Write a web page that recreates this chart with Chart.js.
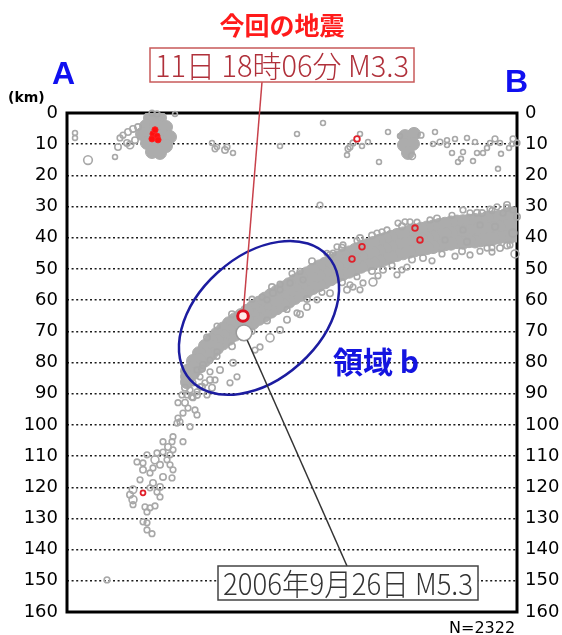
<!DOCTYPE html>
<html>
<head>
<meta charset="utf-8">
<script src="https://cdn.jsdelivr.net/npm/chart.js@4.4.0/dist/chart.umd.min.js"></script>
<style>
  html, body { margin: 0; padding: 0; background: #fff; }
  #wrap { position: relative; width: 562px; height: 635px; }
</style>
</head>
<body>
<div id="wrap"><canvas id="section"></canvas></div>
<script>
// depth axis (km), labelled on both sides
const depthTicks = [0, 10, 20, 30, 40, 50, 60, 70, 80, 90, 100, 110, 120, 130, 140, 150, 160];

// densely packed hypocentres: [distance along A-B, depth]
const denseEvents = [
  // slab
  [450, 32.5], [450, 35.9], [450, 39.3], [444, 32.4], [444, 36.0], [444, 39.6],
  [438, 32.8], [438, 36.2], [438, 39.6], [432, 33.3], [432, 36.5], [432, 39.9],
  [426, 33.5], [426, 36.9], [426, 40.3], [420, 33.6], [420, 37.2], [420, 40.5],
  [414, 34.2], [414, 37.5], [414, 40.8], [408, 34.3], [408, 37.6], [408, 41.2],
  [402, 34.5], [402, 37.8], [402, 41.1], [396, 34.7], [396, 38.0], [396, 41.6],
  [390, 34.8], [390, 38.1], [390, 41.4], [384, 35.1], [384, 38.4], [384, 41.9],
  [378, 35.5], [378, 38.8], [378, 42.1], [372, 35.9], [372, 39.2], [372, 42.5],
  [366, 36.4], [366, 39.7], [366, 43.0], [360, 36.7], [360, 40.0], [360, 43.3],
  [354, 37.1], [354, 40.4], [354, 43.7], [348, 37.6], [348, 40.8], [348, 44.0],
  [342, 38.1], [342, 41.3], [342, 44.5], [336, 38.6], [336, 41.8], [336, 45.0],
  [330, 39.1], [330, 42.3], [330, 45.5], [324, 39.7], [324, 42.9], [324, 46.1],
  [318, 40.4], [318, 43.6], [318, 46.8], [312, 41.0], [312, 44.2], [312, 47.4],
  [306, 41.7], [306, 44.9], [306, 48.1], [300, 42.4], [300, 45.5], [300, 48.6],
  [294, 43.1], [294, 46.2], [294, 49.3], [288, 43.9], [288, 47.0], [288, 50.1],
  [282, 44.7], [282, 47.8], [282, 50.9], [276, 45.6], [276, 48.6], [276, 51.6],
  [270, 46.4], [270, 49.4], [270, 52.4], [264, 47.3], [264, 50.3], [264, 53.3],
  [258, 48.3], [258, 51.3], [258, 54.3], [252, 49.2], [252, 52.2], [252, 55.2],
  [246, 50.3], [246, 53.2], [246, 56.1], [240, 51.4], [240, 54.3], [240, 57.2],
  [234, 52.5], [234, 55.4], [234, 58.3], [228, 53.7], [228, 56.5], [228, 59.3],
  [222, 54.9], [222, 57.7], [222, 60.5], [216, 56.0], [216, 58.8], [216, 61.6],
  [210, 57.2], [210, 59.9], [210, 62.6], [204, 58.3], [204, 61.0], [204, 63.7],
  [198, 59.5], [198, 62.2], [198, 64.9], [192, 60.8], [192, 63.4], [192, 66.0],
  [186, 62.1], [186, 64.7], [186, 67.3], [180, 63.4], [180, 66.0], [180, 68.6],
  [174, 64.8], [174, 67.3], [174, 69.8], [168, 66.1], [168, 68.6], [168, 71.1],
  [162, 67.4], [162, 69.9], [162, 72.4], [156, 69.1], [156, 71.5], [156, 73.9],
  [150, 70.7], [150, 73.1], [150, 75.5], [144, 72.7], [144, 75.0], [144, 77.3],
  [138, 74.7], [138, 77.0], [138, 79.3], [132, 77.0], [132, 79.2], [132, 81.4],
  [126, 79.5], [126, 81.5], [126, 83.5], [120, 82.7], [120, 84.5], [120, 86.3],
  // shallow swarm near A
  [83, 1.6], [93, 1.6], [79, 4.2], [89, 3.8], [99, 4.5],
  [75, 6.7], [85, 6.7], [96, 7.1], [103, 7.7],
  [80, 9.6], [90, 10.3], [99, 10.6], [85, 12.5], [93, 12.8],
  // shallow swarm near B
  [338, 7.4], [347, 6.7], [337, 10.3], [346, 9.9], [341, 12.8]
];

// other hypocentres: [distance, depth, magnitude]
const events = [
  // shallow
  [53, 8.0, 1.3], [56, 7.1, 1.3], [61, 6.1, 1.6], [66, 5.1, 1.6], [71, 4.5, 1.6],
  [51, 10.9, 1.6], [60, 9.6, 1.6], [68, 8.7, 1.6], [63, 10.3, 2.0],
  [8, 6.4, 1.0], [8, 8.0, 1.0], [21, 15.1, 2.5], [48, 14.1, 1.0],
  [85, 0.0, 1.3], [90, 0.3, 1.3], [108, 0.3, 1.0],
  [145, 9.6, 1.0], [148, 11.5, 1.3], [150, 10.9, 1.0], [158, 11.9, 1.6],
  [160, 10.9, 1.3], [166, 12.8, 1.0], [230, 6.7, 1.0], [213, 10.6, 1.0],
  [256, 3.2, 1.0], [280, 13.5, 1.0], [281, 11.5, 1.3], [283, 10.9, 1.3],
  [286, 9.6, 1.3], [293, 6.7, 1.0], [295, 10.6, 1.0], [301, 9.3, 1.0],
  [312, 15.7, 1.0], [321, 6.1, 1.0], [333, 7.4, 1.0], [345, 13.8, 1.8],
  [354, 7.1, 1.3], [368, 6.1, 1.0], [366, 9.9, 1.0], [373, 9.3, 1.3],
  [380, 8.7, 1.0], [380, 10.3, 1.0], [388, 8.3, 1.0], [385, 12.8, 1.0],
  [396, 12.5, 1.0], [400, 8.0, 1.0], [391, 15.7, 1.0], [394, 14.7, 1.0],
  [406, 15.4, 1.0], [410, 12.8, 1.0], [408, 9.3, 1.0], [416, 12.8, 1.0],
  [420, 11.2, 1.0], [423, 9.6, 1.0], [428, 8.3, 1.3], [433, 9.6, 1.0],
  [434, 13.1, 1.0], [431, 17.9, 1.0], [442, 11.2, 1.0], [446, 8.3, 1.3],
  [450, 9.6, 1.3], [445, 9.9, 1.0],
  // slab, east
  [420, 43.3, 1.3], [425, 44.6, 1.3], [448, 45.2, 2.2], [446, 38.5, 2.2],
  [428, 36.5, 1.6], [413, 35.9, 1.3], [396, 37.5, 1.3], [400, 41.3, 1.6],
  [378, 40.7, 1.3], [450, 33.3, 1.6], [436, 32.1, 1.3], [440, 29.5, 1.6],
  [430, 30.1, 1.3], [415, 32.1, 1.6], [396, 31.1, 1.3], [446, 31.1, 1.3],
  [331, 35.3, 1.3], [338, 34.9, 1.3], [343, 34.9, 1.3], [365, 47.4, 1.3],
  [340, 49.4, 1.3], [335, 50.3, 1.3], [330, 51.9, 1.3], [316, 50.3, 1.6],
  [311, 52.2, 1.3], [306, 54.2, 2.2], [296, 54.5, 1.3], [293, 56.7, 1.3],
  [286, 55.8, 1.3], [280, 56.7, 1.6], [310, 38.5, 1.3], [315, 38.1, 1.3],
  [276, 42.3, 1.3], [270, 42.9, 1.3], [266, 44.9, 1.3], [253, 29.5, 1.3],
  [403, 45.5, 1.3], [388, 45.9, 1.3], [433, 43.3, 1.6], [443, 42.3, 1.3],
  [413, 44.3, 1.3], [403, 32.0, 1.3], [423, 30.8, 1.3], [363, 34.3, 1.3],
  [293, 40.1, 1.6], [263, 45.5, 1.6], [233, 50.8, 1.3], [213, 54.9, 1.3],
  [195, 59.0, 1.3], [263, 57.8, 1.6], [283, 55.1, 1.3], [356, 46.5, 1.6],
  // slab edges
  [440, 30.5, 1.6], [425, 31.3, 1.3], [410, 32.0, 1.6], [385, 32.8, 1.3],
  [370, 33.8, 1.6], [350, 35.0, 1.3], [335, 36.3, 1.6], [320, 37.5, 1.3],
  [305, 39.3, 1.6], [290, 41.0, 1.3], [275, 43.2, 1.6], [260, 45.0, 1.3],
  [245, 47.5, 1.6], [225, 51.5, 1.3], [205, 55.8, 1.6], [185, 59.7, 1.3],
  [165, 64.5, 1.6], [150, 68.3, 1.3], [140, 72.0, 1.6],
  [440, 42.5, 1.6], [425, 43.2, 1.3], [395, 44.3, 1.6], [375, 45.2, 1.3],
  [345, 47.0, 1.6], [325, 48.8, 1.3], [305, 50.7, 1.6], [290, 52.5, 1.3],
  [275, 54.3, 1.6], [255, 57.5, 1.3], [240, 59.6, 1.6], [220, 63.0, 1.3],
  [200, 66.5, 1.6], [185, 70.0, 1.3], [165, 74.8, 1.6], [150, 78.0, 1.3],
  [135, 82.0, 1.6],
  // slab, middle
  [203, 72.1, 2.3], [213, 69.6, 1.6], [220, 66.3, 1.6], [230, 64.1, 1.3],
  [240, 62.2, 1.6], [250, 59.9, 1.3], [188, 76.0, 1.3], [193, 75.0, 1.3],
  [166, 80.1, 1.6], [170, 84.6, 1.3], [153, 82.4, 1.6], [163, 86.5, 1.3],
  [143, 85.6, 1.6], [133, 87.8, 1.3], [123, 88.8, 1.3], [130, 90.4, 1.6],
  [126, 91.3, 1.3], [120, 90.4, 1.3], [150, 76.6, 1.3], [143, 79.2, 1.3],
  [136, 80.8, 1.6], [130, 82.4, 1.3], [200, 59.9, 1.3], [206, 57.7, 1.6],
  [213, 56.7, 1.3], [223, 54.5, 1.3], [236, 53.5, 1.3], [233, 64.5, 1.6],
  // slab, deep
  [135, 87.8, 1.6], [130, 89.4, 1.3], [125, 91.0, 1.6], [140, 90.4, 1.3],
  [118, 92.9, 1.6], [121, 94.6, 1.3], [128, 95.2, 1.3], [116, 96.2, 1.3],
  [111, 97.8, 1.3], [130, 96.8, 1.3], [110, 99.4, 1.3], [113, 99.0, 1.3],
  [123, 100.6, 1.3], [106, 103.8, 1.3], [105, 105.4, 1.3], [96, 105.4, 1.3],
  [101, 107.1, 1.6], [116, 105.4, 1.3], [106, 108.0, 1.3], [90, 109.0, 1.3],
  [96, 108.7, 1.3], [103, 109.6, 1.3], [100, 111.2, 1.3], [88, 111.2, 2.2],
  [80, 109.6, 1.3], [70, 111.9, 1.3], [76, 112.2, 1.3], [86, 113.8, 1.3],
  [93, 112.8, 1.6], [83, 115.4, 1.3], [103, 112.8, 1.3], [106, 114.4, 1.3],
  [96, 116.7, 1.6], [105, 117.0, 1.3], [76, 114.4, 1.6], [73, 117.6, 1.3],
  [86, 118.6, 1.6], [93, 119.9, 1.6], [66, 120.8, 2.0], [83, 120.2, 1.3],
  [90, 121.5, 1.3], [93, 123.1, 1.3], [63, 122.4, 1.6], [66, 124.0, 2.2],
  [66, 125.6, 1.3], [78, 126.3, 1.3], [83, 126.6, 1.3], [88, 126.0, 1.3],
  [80, 127.9, 1.3], [76, 131.1, 1.3], [80, 131.4, 1.3], [80, 133.7, 1.3],
  [85, 134.9, 1.3], [40, 149.7, 1.3],
  [138, 86.5, 1.3], [145, 88.1, 1.6], [148, 85.6, 1.3], [133, 84.6, 1.3],
  [143, 83.0, 1.3], [126, 86.5, 1.3], [118, 88.1, 1.6], [115, 90.4, 1.3],
  [111, 92.9, 1.3]
];

// events of the current sequence: [distance, depth, magnitude]
const recentEvents = [
  [348, 36.9, 1.3], [353, 40.7, 1.3], [295, 42.9, 1.3], [285, 46.8, 1.3],
  [76, 121.8, 1.0], [290, 8.3, 1.3]
];
const recentCluster = [
  [86, 6.7, 1.5], [90, 7.4, 1.5], [88, 5.4, 1.5], [85, 8.3, 1.5], [91, 8.6, 1.5]
];

// 11th 18:06 M3.3 and the 2006-09-26 M5.3 event
const mainShock = [[176, 65.1, 3.3]];
const event2006 = [[177, 70.5, 5.3]];

const toPts = rows => rows.map(([x, y, m]) => ({ x, y, m }));
const magRadius = ctx => 1.2 + (ctx.raw && ctx.raw.m ? ctx.raw.m : 1) * 1.25;

function boxedText(ctx, text, x, y, w, h, stroke, color) {
  ctx.save();
  ctx.fillStyle = '#fff';
  ctx.fillRect(x, y, w, h);
  ctx.strokeStyle = stroke;
  ctx.lineWidth = 1.5;
  ctx.strokeRect(x, y, w, h);
  ctx.font = '300 30px "Noto Sans CJK JP"';
  const tw = ctx.measureText(text).width;
  const k = Math.min(1, (w - 10) / tw);
  ctx.translate(x + w / 2, y + h / 2 + 1);
  ctx.scale(k, 1);
  ctx.textAlign = 'center';
  ctx.textBaseline = 'middle';
  ctx.fillStyle = color;
  ctx.fillText(text, 0, 0);
  ctx.restore();
}

// line from a marker edge to a label box
function leader(ctx, px, py, r, tx, ty, color) {
  const dx = tx - px, dy = ty - py;
  const d = Math.hypot(dx, dy);
  ctx.save();
  ctx.strokeStyle = color;
  ctx.lineWidth = 1.5;
  ctx.beginPath();
  ctx.moveTo(px + dx / d * r, py + dy / d * r);
  ctx.lineTo(tx, ty);
  ctx.stroke();
  ctx.restore();
}

const sectionPlugin = {
  id: 'section',
  beforeDatasetsDraw(chart) {
    const { ctx, chartArea: a } = chart;
    ctx.save();
    ctx.strokeStyle = '#000';
    ctx.lineWidth = 3;
    ctx.strokeRect(a.left, a.top, a.right - a.left, a.bottom - a.top);
    ctx.restore();
  },
  afterDatasetsDraw(chart) {
    const { ctx } = chart;
    const xs = chart.scales.x, ys = chart.scales.y;

    // region b
    const ex = xs.getPixelForValue(192), ey = ys.getPixelForValue(65.7);
    const unit = xs.getPixelForValue(1) - xs.getPixelForValue(0);
    ctx.save();
    ctx.strokeStyle = '#1c1ca0';
    ctx.lineWidth = 2.5;
    ctx.beginPath();
    ctx.ellipse(ex, ey, 92.5 * unit, 61.4 * unit, -42 * Math.PI / 180, 0, Math.PI * 2);
    ctx.stroke();
    ctx.restore();

    const m = mainShock[0], o = event2006[0];
    leader(ctx, xs.getPixelForValue(m[0]), ys.getPixelForValue(m[1]), 6, 262, 82, '#c8404a');
    leader(ctx, xs.getPixelForValue(o[0]), ys.getPixelForValue(o[1]), 8, 347, 566, '#333');
  },
  afterDraw(chart) {
    const { ctx } = chart;
    boxedText(ctx, '11日 18時06分 M3.3', 150, 48, 264, 34, '#c85a5a', '#b0303a');
    boxedText(ctx, '2006年9月26日 M5.3', 218, 566, 260, 34, '#444', '#333');

    ctx.save();
    ctx.fillStyle = '#ff1a1a';
    ctx.textAlign = 'center';
    ctx.font = 'bold 25px "Noto Sans CJK JP"';
    ctx.textBaseline = 'middle';
    ctx.fillText('今回の地震', 282, 25);

    ctx.textBaseline = 'alphabetic';
    ctx.textAlign = 'left';
    ctx.fillStyle = '#1010f0';
    ctx.font = 'bold 32px "Liberation Sans"';
    ctx.fillText('A', 52, 84);
    ctx.fillText('B', 505, 92);

    ctx.fillStyle = '#1414e0';
    ctx.font = 'bold 30px "Noto Sans CJK JP"';
    ctx.textBaseline = 'middle';
    ctx.fillText('領域 b', 333, 362);

    ctx.textBaseline = 'alphabetic';
    ctx.fillStyle = '#000';
    ctx.font = 'bold 14px "DejaVu Sans"';
    ctx.fillText('(km)', 8, 102);
    ctx.font = '16px "DejaVu Sans"';
    ctx.fillText('N=2322', 449, 633);
    ctx.restore();
  }
};

const depthAxis = (position, width, padding, showGrid) => ({
  type: 'linear',
  position,
  reverse: true,
  min: 0,
  max: 160,
  afterBuildTicks: s => { s.ticks = depthTicks.map(v => ({ value: v })); },
  afterFit: s => { s.width = width; },
  ticks: { font: { family: 'DejaVu Sans', size: 18 }, color: '#000', padding },
  grid: { display: showGrid, drawTicks: false, color: '#1a1a1a', lineWidth: 1.4 },
  border: { display: false, dash: [2, 2.6] }
});

new Chart(document.getElementById('section'), {
  type: 'scatter',
  data: {
    datasets: [
      {
        label: 'main',
        data: toPts(mainShock),
        order: 0,
        pointRadius: magRadius,
        pointBorderWidth: 3,
        pointBorderColor: '#dd1020',
        pointBackgroundColor: '#ffeaea'
      },
      {
        label: '2006',
        data: toPts(event2006),
        order: 1,
        pointRadius: magRadius,
        pointBorderWidth: 1.5,
        pointBorderColor: '#9a9a9a',
        pointBackgroundColor: '#fff'
      },
      {
        label: 'recent cluster',
        data: toPts(recentCluster),
        order: 2,
        pointRadius: magRadius,
        pointBorderWidth: 1,
        pointBorderColor: '#ff2020',
        pointBackgroundColor: '#ff1010'
      },
      {
        label: 'recent',
        data: toPts(recentEvents),
        order: 3,
        pointRadius: magRadius,
        pointBorderWidth: 1.8,
        pointBorderColor: '#e0202a',
        pointBackgroundColor: 'rgba(255,255,255,0)'
      },
      {
        label: 'events',
        data: toPts(events),
        order: 4,
        clip: false,
        pointRadius: magRadius,
        pointBorderWidth: 1.6,
        pointBorderColor: '#a8a8a8',
        pointBackgroundColor: 'rgba(255,255,255,0)'
      },
      {
        label: 'dense',
        data: denseEvents.map(([x, y]) => ({ x, y })),
        order: 5,
        pointRadius: 6.5,
        pointBorderWidth: 1,
        pointBorderColor: '#acacac',
        pointBackgroundColor: '#acacac'
      }
    ]
  },
  options: {
    responsive: true,
    maintainAspectRatio: false,
    animation: false,
    layout: { padding: { top: 113, bottom: 23, left: 0, right: 0 } },
    plugins: { legend: { display: false }, tooltip: { enabled: false } },
    scales: {
      x: { type: 'linear', min: 0, max: 450, display: false },
      y: depthAxis('left', 67, 9, true),
      y2: depthAxis('right', 45, 8, false)
    }
  },
  plugins: [sectionPlugin]
});
</script>
</body>
</html>
